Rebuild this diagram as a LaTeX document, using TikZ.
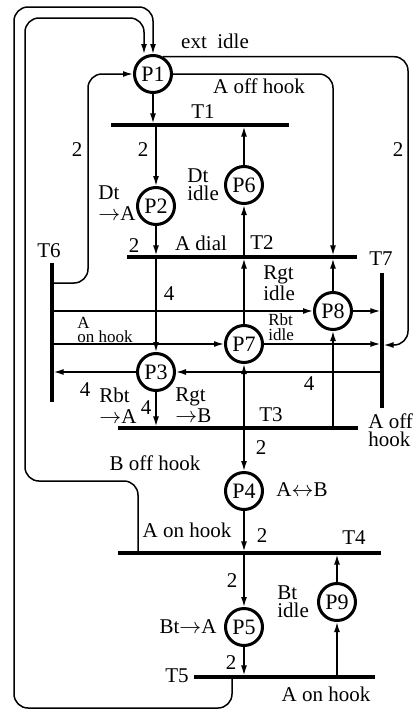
\documentclass[tikz,border=0pt]{standalone}
\usepackage{fontspec}
\setmainfont{Liberation Serif}
\usetikzlibrary{arrows.meta}

\tikzset{
  place/.style={circle, draw, line width=1.5pt, minimum size=18.5pt, inner sep=0pt,
    font=\fontsize{11}{11}\selectfont},
  hbar/.style={fill, inner sep=0pt, outer sep=0pt, minimum height=1.6pt, minimum width=#1},
  vbar/.style={fill, inner sep=0pt, outer sep=0pt, minimum width=1.6pt, minimum height=#1},
  arcline/.style={line width=0.75pt, -{Latex[length=5pt,width=3pt]}},
  retline/.style={arcline, rounded corners=7pt},
  lbl/.style={inner sep=0pt, font=\fontsize{10.5}{9}\selectfont, align=left},
  albl/.style={lbl, font=\fontsize{10.5}{10.5}\selectfont},
  slbl/.style={inner sep=0pt, font=\fontsize{8.5}{7}\selectfont, align=left},
}
\newcommand{\ra}{\ensuremath{\rightarrow}}

\begin{document}
\begin{tikzpicture}[x=0.5pt, y=-0.5pt]
  \useasboundingbox (0,0) rectangle (416,712);

  % 1. 库所 P1--P9
  \node[place] (P1) at (153,74) {P1};
  \node[place] (P2) at (156,206) {P2};
  \node[place] (P6) at (244,185) {P6};
  \node[place] (P8) at (333,311) {P8};
  \node[place] (P7) at (244,344) {P7};
  \node[place] (P3) at (156,372) {P3};
  \node[place] (P4) at (244,491) {P4};
  \node[place] (P5) at (244,627) {P5};
  \node[place] (P9) at (337,602) {P9};

  % 2. 变迁 T1--T7（粗线段）
  \node[hbar=89pt] (T1) at (200,125) {};
  \node[hbar=115pt] (T2) at (242,257) {};
  \node[hbar=120pt] (T3) at (238,428) {};
  \node[hbar=131.5pt] (T4) at (249.5,553) {};
  \node[hbar=90.5pt] (T5) at (284.5,677) {};
  \node[vbar=69.5pt] (T6) at (52,332.5) {};
  \node[vbar=67.5pt] (T7) at (382,340.5) {};

  % 3. 竖直的弧
  \draw[arcline] (P1) -- (P1 |- T1.north);
  \draw[arcline] (P2 |- T1.south) -- (P2);
  \draw[arcline] (P6) -- (P6 |- T1.south);
  \draw[arcline] (P2) -- (P2 |- T2.north);
  \draw[arcline] (P6 |- T2.north) -- (P6);
  \draw[arcline] (P3 |- T2.south) -- (P3);
  \draw[arcline] (P7) -- (P7 |- T2.south);
  \draw[arcline] (P8) -- (P8 |- T2.south);
  \draw[arcline] (P3) -- (P3 |- T3.north);
  \draw[arcline] (P8 |- T3.north) -- (P8);
  \draw[arcline] (P7 |- T3.north) -- (P7);
  \draw[arcline] (P4 |- T3.south) -- (P4);
  \draw[arcline] (P4) -- (P4 |- T4.north);
  \draw[arcline] (P5 |- T4.south) -- (P5);
  \draw[arcline] (P9) -- (P9 |- T4.south);
  \draw[arcline] (P5) -- (P5 |- T5.north);
  \draw[arcline] (P9 |- T5.north) -- (P9);

  % 4. 水平的弧（T6、T7 之间）
  \draw[arcline] (T6.east |- P8) -- (P8);
  \draw[arcline] (T6.east |- P7) -- (P7);
  \draw[arcline] (P8) -- (T7.west |- P8);
  \draw[arcline] (P7) -- (T7.west |- P7);
  \draw[arcline] (T7.west |- P3) -- (P3);
  \draw[arcline] (P3) -- (T6.east |- P3);

  % 5. 回到 P1 的长弧和从 P1 出发的长弧
  \draw[retline] ([yshift=-10pt]T6.north east) -| (88,74) -- (P1);
  \draw[retline] (P1.east) -| (P8 |- T2.north);
  \draw[retline] (P1.60) -| (408,345) -- (T7.east |- 0,345);
  \draw[retline] ([xshift=10pt]T4.north west) |- (25,481) |- (144,18)
    -- ([xshift=-4.5pt]P1.north);
  \draw[retline] ([xshift=19pt]T5.south west) |- (14,708) |- (153,7) -- (P1.north);

  % 6. 标注
  \node[lbl] (t1) at (203,112) {T1};
  \node[lbl] (t2) at (262,243) {T2};
  \node[lbl] (t3) at (271,415) {T3};
  \node[lbl] (t4) at (354,538) {T4};
  \node[lbl] (t5) at (177,676) {T5};
  \node[lbl] (t6) at (49,251) {T6};
  \node[lbl] (t7) at (381,259) {T7};

  \node[lbl] (extidle) at (215,41) {ext\enspace idle};
  \node[lbl] (aoff1) at (259,86) {A off hook};
  \node[lbl] (w1) at (77,150) {2};
  \node[lbl] (w2) at (143,150) {2};
  \node[lbl] (w3) at (398,150) {2};
  \node[albl, anchor=west] (dta) at (98,203) {Dt\\\ra A};
  \node[lbl, anchor=west] (dtidle) at (187,185) {Dt\\idle};
  \node[lbl] (w4) at (134,246) {2};
  \node[lbl] (adial) at (201,243) {A dial};
  \node[lbl, anchor=west] (rgtidle) at (263,283) {Rgt\\idle};
  \node[lbl] (w5) at (169,294) {4};
  \node[slbl, anchor=west, font=\fontsize{8.5}{7.2}\selectfont] (aon1) at (77,330) {A\\on hook};
  \node[slbl, anchor=west, font=\fontsize{8.5}{7.5}\selectfont] (rbtidle) at (268,327) {Rbt\\idle};
  \node[lbl] (w6) at (85,390) {4};
  \node[albl, anchor=west] (rbta) at (99,406) {Rbt\\\ra A};
  \node[lbl] (w7) at (146,408) {4};
  \node[albl, anchor=west] (rgtb) at (175,405) {Rgt\\\ra B};
  \node[lbl] (w8) at (309,384) {4};
  \node[lbl, anchor=west] (aoff2) at (368,430) {A off\\hook};
  \node[lbl] (w9) at (261,448) {2};
  \node[lbl] (boff) at (155,463) {B off hook};
  \node[lbl] (ab) at (302,490) {A\ensuremath{\leftrightarrow}B};
  \node[lbl] (aon2) at (187,530) {A on hook};
  \node[lbl] (w10) at (262,536) {2};
  \node[lbl] (w11) at (232,581) {2};
  \node[lbl, anchor=west] (btidle) at (277,602) {Bt\\idle};
  \node[lbl] (bta) at (188,627) {Bt\ra A};
  \node[lbl] (w12) at (231,663) {2};
  \node[lbl] (aon3) at (326,694) {A on hook};
\end{tikzpicture}
\end{document}
